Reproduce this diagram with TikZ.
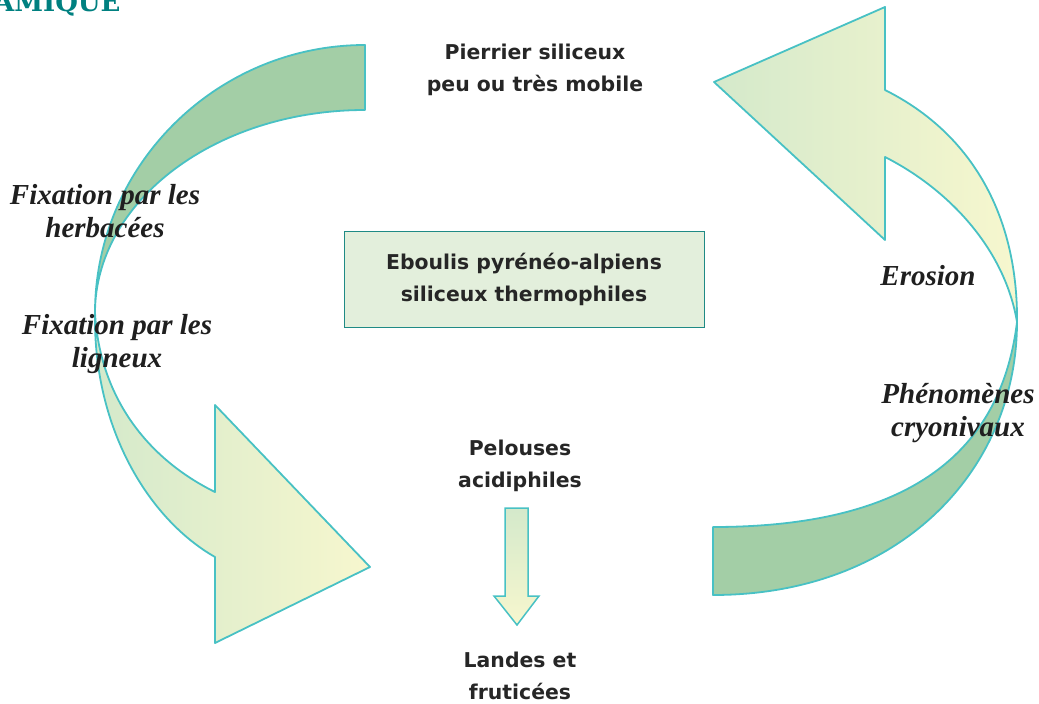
\documentclass[tikz,border=0pt]{standalone}
\usepackage{fontspec}
\setmainfont{Liberation Serif}
\newfontfamily\stagefont{DejaVu Sans}
\newfontfamily\titlefont{DejaVu Serif}
\usetikzlibrary{positioning}

\definecolor{bandgreen}{RGB}{163,206,166}
\definecolor{palegreen}{RGB}{212,233,203}
\definecolor{paleyellow}{RGB}{247,247,206}
\definecolor{edgecyan}{RGB}{72,193,196}
\definecolor{boxfill}{RGB}{227,239,220}
\definecolor{boxedge}{RGB}{31,138,133}
\definecolor{titleteal}{RGB}{0,128,128}

\tikzset{
  band/.style={draw=edgecyan, line width=1.8pt, fill=bandgreen, line join=round},
  shadedband/.style={draw=edgecyan, line width=1.8pt, left color=palegreen, right color=paleyellow, line join=round},
  stage/.style={font=\stagefont\bfseries\fontsize{20.4}{32}\selectfont, align=center, text=black!85},
  process/.style={font=\bfseries\itshape\fontsize{29}{33}\selectfont, align=center, text=black!88},
}

\begin{document}
\begin{tikzpicture}[x=1pt, y=-1pt]
    \useasboundingbox (0,0) rectangle (1039,704);

    % reste du titre
    \node[anchor=base west, inner sep=0pt, text=titleteal,
          font=\titlefont\bfseries\fontsize{26}{26}\selectfont] (titre) at (-6,11) {AMIQUE};

    % bande gauche (haut) et fleche vers le bas
    \draw[band] (365,45) .. controls (217,45) and (95,165) .. (95,313)
        .. controls (95,201) and (216,110) .. (365,110) -- cycle;
    \draw[shadedband] (95,313) .. controls (100,400) and (150,460) .. (215,492)
        -- (215,405) -- (370,567) -- (215,643) -- (215,557)
        .. controls (150,520) and (93,430) .. (95,313) -- cycle;

    % fleche droite vers le haut et bande droite (bas)
    \draw[shadedband] (1017,322) .. controls (1005,250) and (950,190) .. (885,157)
        -- (885,240) -- (714,82) -- (885,7) -- (885,90)
        .. controls (975,135) and (1018,220) .. (1017,322) -- cycle;
    \draw[band] (1017,322) .. controls (1017,470) and (900,595) .. (713,595)
        -- (713,527) .. controls (900,527) and (1000,460) .. (1017,322) -- cycle;

    % petite fleche
    \draw[draw=edgecyan, line width=1.5pt, top color=palegreen, bottom color=paleyellow]
        (505,508) -- (528,508) -- (528,596) -- (539,596) -- (517,625)
        -- (494,596) -- (505,596) -- cycle;

    % stades
    \node[stage] (pierrier) at (535,70) {Pierrier siliceux\\peu ou très mobile};
    \node[stage, draw=boxedge, fill=boxfill, line width=1pt,
          minimum width=360pt, minimum height=96pt] (eboulis) at (524,279)
          {Eboulis pyrénéo-alpiens\\siliceux thermophiles};
    \node[stage] (pelouses) at (520,466) {Pelouses\\acidiphiles};
    \node[stage] (landes) at (520,676) {Landes et\\fruticées};

    % processus
    \node[process] (herbacees) at (105,211) {Fixation par les\\herbacées};
    \node[process] (ligneux) at (117,344) {Fixation par les\\ligneux};
    \node[process] (erosion) at (928,276) {Erosion};
    \node[process] (cryo) at (958,413) {Phénomènes\\cryonivaux};
\end{tikzpicture}
\end{document}
